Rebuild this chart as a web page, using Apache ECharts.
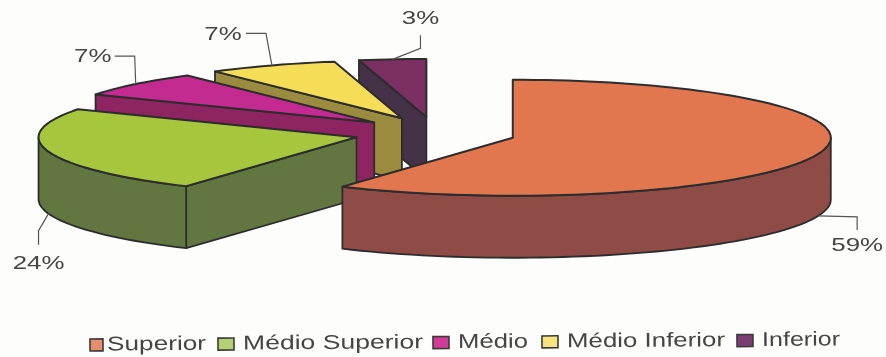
<!DOCTYPE html>
<html>
<head>
<meta charset="utf-8">
<style>html,body{margin:0;padding:0;background:#fdfdfc}#c{width:886px;height:357px}</style>
<script src="https://cdn.jsdelivr.net/npm/echarts@6/dist/echarts.min.js"></script>
</head>
<body>
<div id="c"></div>
<script>
const categories = ['Superior', 'Médio Superior', 'Médio', 'Médio Inferior', 'Inferior'];
const values = [59, 24, 7, 6.6, 3.4];

const topColors = ['#E2774F', '#A6C63E', '#C42B90', '#F6DD58', '#7B2F62'];
const wallColors = ['#8F4B46', '#62763F', '#8E2462', '#9B8B3E', '#453148'];
const swatchColors = ['#E98C6C', '#B5D070', '#D03C98', '#F8E47C', '#7A3F70'];

// Projection of the tilted pie
const CX = 435, CY = 133.2, RX = 318, RY = 58, DEPTH = 62, EX = 81, EY = 16.3;
const INK = '#2d2d2d', TEXT = '#454545';

// Leader elbows and label centres, relative to the anchor on the slice rim
const leaders = [
  {elbow: [39, 1], end: [39, 14], label: [39, 30]},
  {elbow: [-10, 17], end: [-10, 31], label: [-10, 50]},
  {elbow: [-1, -28], end: [-21, -28], label: [-43, -27]},
  {elbow: [-6, -32], end: [-26, -32], label: [-49, -31]},
  {elbow: [28, -11], end: [28, -24], label: [28, -41]}
];
// Legend layout: swatch x, swatch width, text x, text width (before rotation)
const legendLayout = [[90, 13, 107, 99], [218, 16, 243, 180], [433, 16, 458, 70], [542, 16, 567, 158], [737, 16, 762, 78]];

const total = values.reduce((a, b) => a + b, 0);
const D2R = Math.PI / 180;
const slices = [];
(function () {
  let a = 0;
  values.forEach(v => {
    const b = a + v / total * 360;
    slices.push({a, b, mid: (a + b) / 2});
    a = b;
  });
})();

function renderSlice(i) {
  return function () {
    const s = slices[i];
    const ox = CX + EX * Math.sin(s.mid * D2R);
    const oy = CY - EY * Math.cos(s.mid * D2R);
    const rim = t => [ox + RX * Math.sin(t * D2R), oy - RY * Math.cos(t * D2R)];
    const down = p => [p[0], p[1] + DEPTH];
    const arc = (from, to) => {
      const pts = [];
      const n = Math.max(2, Math.ceil((to - from) / 2));
      for (let k = 0; k <= n; k++) pts.push(rim(from + (to - from) * k / n));
      return pts;
    };
    const poly = (points, fill, z2, lw) => ({
      type: 'polygon', z2, silent: true,
      shape: {points},
      style: {fill, stroke: INK, lineWidth: lw, lineJoin: 'round'}
    });
    const kids = [];
    const apex = [ox, oy];
    // only the cut faces turned towards the viewer are drawn
    if (s.a > 180) {
      const p = rim(s.a);
      kids.push(poly([apex, p, down(p), down(apex)], wallColors[i], 1, 1.8));
    }
    if (s.b < 180) {
      const p = rim(s.b);
      kids.push(poly([apex, p, down(p), down(apex)], wallColors[i], 1, 1.8));
    }
    const wa = Math.max(s.a, 90), wb = Math.min(s.b, 270);
    if (wb > wa) {
      const top = arc(wa, wb);
      kids.push(poly(top.concat(top.slice().reverse().map(down)), wallColors[i], 2, 1.8));
    }
    kids.push(poly([apex].concat(arc(s.a, s.b)), topColors[i], 3, 2));

    const front = s.mid > 90 && s.mid < 270;
    const base = rim(s.mid);
    const anchor = front ? down(base) : base;
    const L = leaders[i];
    const at = d => [anchor[0] + d[0], anchor[1] + d[1]];
    kids.push({
      type: 'polyline', z2: 4, silent: true,
      shape: {points: [anchor, at(L.elbow), at(L.end)]},
      style: {fill: null, stroke: '#555', lineWidth: 1.2}
    });
    const lp = at(L.label);
    kids.push({
      type: 'text', z2: 5, silent: true,
      x: lp[0], y: lp[1], scaleX: 1.36,
      style: {
        text: Math.round(values[i]) + '%',
        font: '19px "Liberation Sans", Arial, sans-serif',
        fill: TEXT, align: 'center', verticalAlign: 'middle'
      }
    });
    return {type: 'group', children: kids};
  };
}

// Draw back to front
const order = [4, 3, 2, 1, 0];
const series = order.map(i => ({
  type: 'custom',
  name: categories[i],
  coordinateSystem: 'none',
  silent: true,
  animation: false,
  z: 2 + (4 - i),
  data: [values[i]],
  renderItem: renderSlice(i)
}));

const measure = document.createElement('canvas').getContext('2d');
const LEGEND_FONT = '20px "Liberation Sans", Arial, sans-serif';
measure.font = LEGEND_FONT;
const legendChildren = [];
categories.forEach((name, i) => {
  const l = legendLayout[i];
  legendChildren.push({
    type: 'rect', x: l[0] - 90, y: -6,
    shape: {width: l[1], height: 12},
    style: {fill: swatchColors[i], stroke: '#3a3a3a', lineWidth: 1.6}
  });
  legendChildren.push({
    type: 'text', x: l[2] - 90, y: 0,
    scaleX: l[3] / measure.measureText(name).width,
    style: {text: name, font: LEGEND_FONT, fill: TEXT, align: 'left', verticalAlign: 'middle'}
  });
});

const chart = echarts.init(document.getElementById('c'), null, {renderer: 'canvas'});
chart.setOption({
  backgroundColor: '#fdfdfc',
  animation: false,
  series,
  graphic: {elements: [{type: 'group', x: 90, y: 345, rotation: 0.0068, children: legendChildren}]}
});
</script>
</body>
</html>
